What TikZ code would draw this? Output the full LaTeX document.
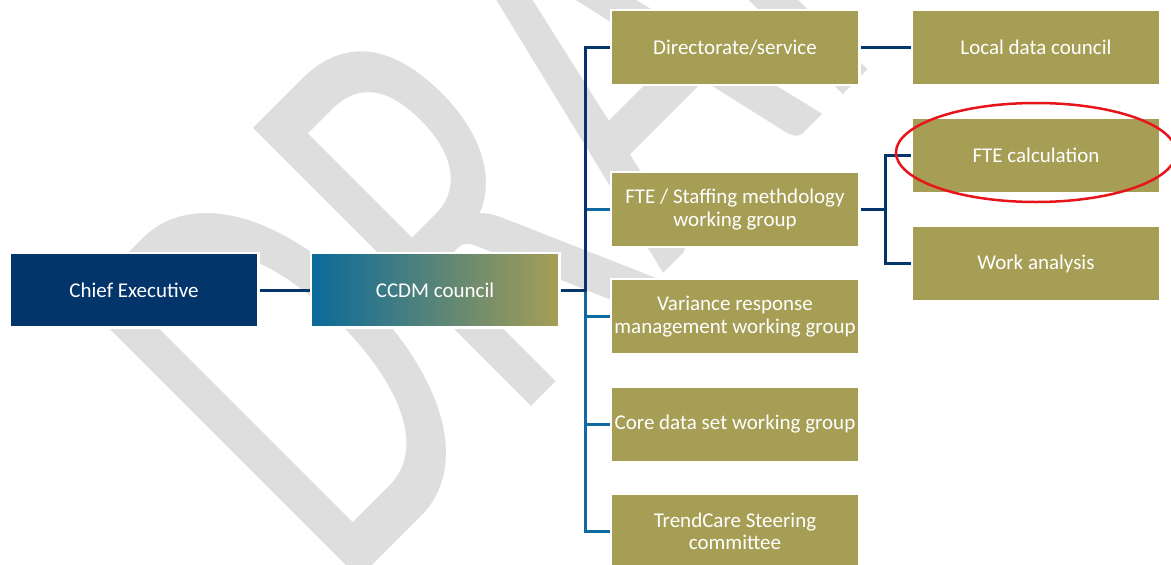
\documentclass[tikz,border=0pt]{standalone}
\usepackage{fontspec}
\setmainfont{Carlito}
\usetikzlibrary{shapes.geometric}
\definecolor{navy}{HTML}{04356A}
\definecolor{lineblue}{HTML}{1069A0}
\definecolor{olive}{HTML}{A69E55}
\definecolor{ccdmleft}{HTML}{0A6A9B}
\definecolor{wmgray}{HTML}{DEDEDE}
\definecolor{ringred}{HTML}{E8141B}
\tikzset{
  box/.style={rectangle, draw=white, line width=1.5pt, fill=olive, text=white,
    minimum width=248pt, minimum height=74pt, inner sep=0pt, align=center,
    font=\fontsize{21}{22.5}\selectfont},
  navybox/.style={box, fill=navy},
  gradbox/.style={box, left color=ccdmleft, right color=olive},
  navyline/.style={draw=navy, line width=3pt},
  blueline/.style={draw=lineblue, line width=3pt},
  wmark/.style={text=wmgray, inner sep=0pt, anchor=base west, rotate=45,
    font=\fontsize{394}{400}\selectfont},
  ring/.style={ellipse, draw=ringred, line width=2.5pt, minimum width=280pt,
    minimum height=99pt, inner sep=0pt}
}
\begin{document}
\begin{tikzpicture}[x=1pt,y=-1pt]
\clip (0,0) rectangle (1171,565);
\fill[white] (0,0) rectangle (1171,565);
% watermark
\node[wmark] (wm) at (340,597.5) {\scalebox{1}[1.556]{DRAFT}};
% nodes
\node[navybox] (ce) at (134,290) {Chief Executive};
\node[gradbox] (ccdm) at (435,290) {CCDM council};
\node[box] (dir) at (735,47.5) {Directorate/service};
\node[box] (fte) at (735,209.5) {FTE / Staffing methdology\\working group};
\node[box] (var) at (735,316.5) {Variance response\\management working group};
\node[box] (core) at (735,424.5) {Core data set working group};
\node[box] (trend) at (735,531.5) {TrendCare Steering\\committee};
\node[box] (local) at (1036,47.5) {Local data council};
\node[box] (calc) at (1036,155.5) {FTE calculation};
\node[box] (work) at (1036,263.5) {Work analysis};
% connectors
\coordinate (bus) at (585,290);
\coordinate (j2) at (885,209.5);
\draw[navyline] (ce) -- (ccdm);
\draw[blueline] (ccdm.east) -- (bus) |- (trend.west);
\draw[blueline] (bus) |- (core.west);
\draw[blueline] (bus) |- (var.west);
\draw[blueline] (bus) |- (fte.west);
\draw[navyline] (ccdm.east) -- (bus) |- (dir.west);
\draw[navyline] (dir) -- (local);
\draw[navyline] (fte.east) -- (j2) |- (calc.west);
\draw[navyline] (j2) |- (work.west);
% redraw box borders over line ends
\foreach \n in {ce,ccdm,dir,fte,var,core,trend,local,calc,work}{
  \draw[white, line width=1.5pt] (\n.north west) rectangle (\n.south east);
}
\node[ring] (mark) at ([yshift=3pt]calc.center) {};
\end{tikzpicture}
\end{document}
